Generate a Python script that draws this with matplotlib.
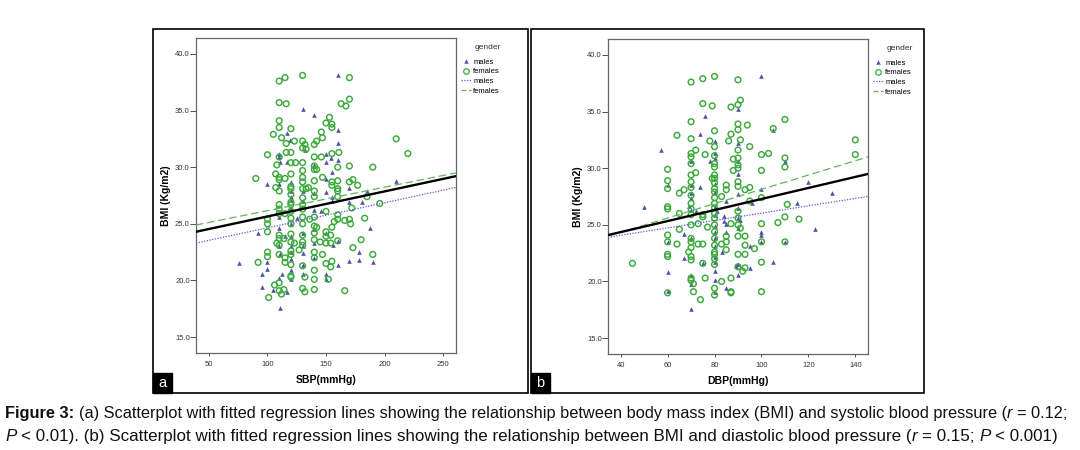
import matplotlib
matplotlib.use("Agg")
import matplotlib.pyplot as plt
from matplotlib.lines import Line2D
from matplotlib.patches import Rectangle
from matplotlib.transforms import IdentityTransform

# ---- data ----
# panel a: SBP vs BMI, (x, y) pairs
SBP_FEMALES = [
    (90, 29.0), (100, 31.1), (100, 25.4), (100, 25.0), (100, 24.3), (100, 22.5), (100, 22.1),
    (92, 21.6), (101, 18.5), (105, 32.9), (107, 29.4), (108, 30.2), (107, 28.2), (110, 37.6),
    (115, 37.9), (110, 35.7), (116, 35.6), (110, 34.1), (110, 33.5), (112, 32.6), (110, 30.9),
    (110, 29.1), (110, 28.9), (110, 27.9), (110, 26.7), (110, 26.3), (110, 25.9), (110, 24.0),
    (110, 23.7), (110, 23.1), (110, 22.3), (108, 23.3), (110, 19.8), (110, 19.1), (112, 18.8),
    (114, 19.2), (106, 19.6), (116, 32.1), (116, 31.3), (115, 29.0), (115, 25.9), (114, 23.7),
    (115, 22.0), (115, 21.6), (120, 33.4), (120, 31.3), (120, 30.4), (120, 29.4), (120, 28.3),
    (120, 28.1), (120, 27.6), (120, 26.9), (120, 26.7), (120, 26.1), (120, 25.5), (120, 25.0),
    (120, 24.1), (120, 23.4), (120, 22.6), (120, 22.3), (120, 21.4), (120, 20.4), (120, 20.3),
    (123, 32.3), (124, 30.4), (123, 23.3), (127, 22.7), (130, 38.1), (130, 32.3), (130, 31.7),
    (130, 30.4), (130, 29.7), (130, 29.1), (130, 28.7), (130, 28.1), (130, 27.3), (130, 26.7),
    (130, 26.3), (130, 25.6), (130, 25.0), (130, 24.0), (130, 23.4), (130, 23.1), (130, 21.3),
    (130, 19.3), (132, 19.0), (132, 32.0), (133, 31.6), (133, 28.1), (135, 28.2), (136, 25.4),
    (132, 20.3), (140, 32.0), (140, 30.9), (140, 30.1), (140, 29.8), (140, 28.8), (140, 27.9),
    (140, 27.4), (140, 25.6), (140, 24.8), (140, 24.2), (140, 23.6), (140, 22.5), (140, 22.0),
    (140, 20.9), (140, 20.1), (140, 19.2), (142, 32.3), (142, 29.8), (142, 24.7), (146, 33.1),
    (147, 32.6), (146, 30.9), (147, 29.1), (147, 22.3), (145, 23.4), (150, 33.9), (153, 34.4),
    (155, 33.8), (155, 33.5), (150, 26.1), (150, 24.3), (150, 23.9), (150, 23.3), (150, 21.5),
    (152, 20.1), (154, 24.0), (154, 23.3), (155, 31.2), (155, 28.7), (155, 28.4), (155, 24.7),
    (155, 21.7), (154, 21.2), (157, 25.2), (160, 30.0), (160, 28.8), (160, 28.1), (160, 27.9),
    (160, 27.4), (160, 25.8), (160, 25.4), (160, 23.5), (161, 31.3), (163, 35.6), (167, 35.4),
    (170, 36.0), (170, 37.9), (166, 25.3), (166, 19.1), (170, 30.1), (170, 28.7), (170, 25.4),
    (171, 25.0), (172, 26.4), (173, 28.9), (173, 22.9), (177, 28.4), (180, 23.6), (183, 25.5),
    (185, 27.4), (190, 30.0), (190, 22.3), (196, 26.8), (210, 32.5), (220, 31.2),
]
SBP_MALES = [
    (76, 21.5), (92, 24.2), (100, 28.5), (95, 20.6), (95, 19.4), (100, 21.6), (100, 21.0),
    (105, 19.2), (110, 31.2), (110, 30.9), (111, 30.5), (110, 28.5), (110, 25.6), (110, 24.6),
    (110, 23.0), (111, 22.3), (110, 20.2), (111, 17.6), (112, 20.6), (117, 33.0), (119, 32.4),
    (117, 30.5), (115, 23.9), (117, 19.0), (120, 28.7), (120, 27.9), (120, 27.4), (120, 27.1),
    (120, 26.4), (120, 25.0), (120, 23.9), (120, 23.0), (120, 22.5), (120, 21.9), (120, 20.9),
    (120, 20.1), (125, 25.5), (130, 35.1), (130, 27.9), (130, 27.0), (130, 24.2), (130, 23.0),
    (130, 22.4), (130, 21.4), (130, 20.6), (132, 31.5), (140, 34.6), (140, 30.2), (140, 27.7),
    (140, 26.2), (140, 24.5), (140, 23.3), (140, 22.0), (146, 26.1), (150, 31.2), (150, 30.5),
    (150, 29.0), (150, 27.8), (150, 24.2), (150, 20.6), (150, 20.1), (154, 30.8), (155, 29.6),
    (155, 27.4), (155, 27.0), (156, 23.1), (160, 38.1), (160, 33.3), (160, 32.1), (160, 30.6),
    (160, 23.5), (160, 21.4), (170, 28.2), (170, 26.9), (170, 21.7), (178, 21.8), (178, 22.5),
    (181, 26.9), (185, 27.9), (188, 24.6), (190, 21.6), (210, 28.8),
]
# panel b: DBP vs BMI
DBP_FEMALES = [
    (45, 21.6), (60, 29.9), (60, 28.9), (60, 28.2), (60, 26.6), (60, 26.4), (60, 24.1),
    (60, 23.5), (60, 22.4), (60, 22.2), (60, 19.0), (64, 32.9), (64, 23.3), (65, 26.0),
    (65, 24.6), (65, 27.8), (67, 28.1), (70, 37.6), (70, 34.1), (70, 32.6), (70, 31.3),
    (70, 31.0), (70, 30.4), (70, 29.4), (70, 28.8), (70, 28.3), (70, 27.6), (70, 26.9),
    (70, 26.4), (70, 25.9), (70, 25.0), (70, 23.8), (70, 23.5), (70, 23.0), (70, 22.2),
    (70, 21.9), (70, 20.3), (70, 20.1), (71, 19.8), (71, 19.1), (69, 22.6), (72, 31.6),
    (72, 29.6), (73, 25.1), (73, 23.3), (75, 37.9), (75, 35.7), (75, 25.9), (75, 25.7),
    (75, 23.3), (75, 21.6), (76, 31.2), (76, 20.3), (77, 24.8), (78, 32.4), (79, 35.5),
    (79, 29.1), (80, 38.1), (80, 33.3), (80, 31.9), (80, 31.1), (80, 30.4), (80, 30.1),
    (80, 29.4), (80, 29.1), (80, 28.7), (80, 28.2), (80, 27.9), (80, 27.4), (80, 26.9),
    (80, 26.5), (80, 26.0), (80, 25.6), (80, 25.0), (80, 24.4), (80, 23.8), (80, 23.2),
    (80, 22.6), (80, 22.4), (80, 22.0), (80, 21.5), (80, 19.4), (80, 18.8), (74, 18.4),
    (83, 27.5), (83, 23.3), (83, 20.0), (85, 28.5), (85, 28.1), (85, 24.0), (85, 23.5),
    (85, 22.8), (86, 32.4), (87, 35.4), (87, 33.0), (87, 25.1), (87, 20.3), (87, 19.1),
    (87, 19.0), (88, 30.8), (88, 29.8), (90, 37.8), (90, 35.6), (90, 33.9), (90, 33.4),
    (90, 31.6), (90, 30.9), (90, 30.3), (90, 30.0), (90, 28.8), (90, 28.4), (90, 26.2),
    (90, 25.6), (90, 25.0), (90, 24.0), (90, 22.4), (90, 21.3), (91, 36.0), (91, 32.5),
    (91, 24.7), (92, 20.9), (93, 21.2), (93, 24.0), (93, 22.4), (93, 23.2), (94, 33.8),
    (95, 31.9), (95, 28.3), (93, 28.1), (95, 27.1), (97, 22.9), (100, 31.2), (100, 29.8),
    (100, 27.4), (100, 25.1), (100, 23.5), (100, 21.7), (100, 19.1), (103, 31.3), (105, 33.5),
    (107, 25.2), (110, 34.3), (110, 30.9), (110, 30.1), (110, 25.7), (110, 23.5), (111, 26.8),
    (116, 25.5), (140, 32.5), (140, 31.2),
]
DBP_MALES = [
    (50, 26.6), (57, 31.6), (60, 28.5), (60, 23.5), (60, 20.8), (60, 19.2), (67, 24.2),
    (67, 22.1), (69, 26.7), (70, 30.6), (70, 28.5), (70, 27.8), (70, 27.4), (70, 26.3),
    (70, 23.8), (70, 20.6), (70, 19.8), (70, 17.6), (72, 26.2), (74, 28.3), (74, 33.0),
    (76, 34.6), (75, 21.6), (78, 30.6), (80, 32.4), (80, 31.3), (80, 30.9), (80, 28.6),
    (80, 27.9), (80, 26.6), (80, 25.9), (80, 24.9), (80, 24.4), (80, 23.8), (80, 23.1),
    (80, 22.2), (80, 21.7), (80, 20.9), (80, 20.1), (80, 19.1), (81, 26.2), (83, 22.6),
    (84, 25.8), (84, 25.3), (85, 27.1), (85, 24.4), (85, 19.4), (85, 25.1), (90, 35.2),
    (90, 32.2), (90, 30.6), (90, 29.5), (90, 27.7), (90, 26.5), (90, 25.6), (90, 24.7),
    (90, 21.5), (90, 20.6), (89, 21.4), (91, 25.4), (95, 23.1), (95, 21.2), (96, 26.9),
    (100, 38.1), (100, 28.2), (100, 24.4), (100, 24.1), (100, 23.5), (105, 33.4), (105, 21.7),
    (110, 30.6), (110, 23.5), (115, 26.9), (120, 28.8), (123, 24.6), (130, 27.8),
]

# fitted lines (intercept, slope)
SBP_FIT_TOTAL = (23.44, 0.0221)
SBP_FIT_FEMALES = (24.09, 0.0207)
SBP_FIT_MALES = (22.44, 0.0221)
DBP_FIT_TOTAL = (22.41, 0.0487)
DBP_FIT_FEMALES = (21.81, 0.0632)
DBP_FIT_MALES = (22.78, 0.0325)

SBP_TICKS = [50, 100, 150, 200, 250]
DBP_TICKS = [40, 60, 80, 100, 120, 140]
BMI_TICKS = [15.0, 20.0, 25.0, 30.0, 35.0, 40.0]

GREEN = "#3aaa3a"
GREEN_LINE = "#5cb85c"
BLUE = "#5050a8"
BLUE_LINE = "#5a5ad0"
FONT = "Liberation Sans"

W, H = 1080, 450


def px_rect(x0, y0, x1, y1):
    """figure-fraction rect from pixel coords (top-left origin)"""
    return [x0 / W, 1 - y1 / H, (x1 - x0) / W, (y1 - y0) / H]


def draw_panel(fig, rect, females, males, fits, xlim, xticks, xlabel):
    ax = fig.add_axes(rect)
    mx = [p[0] for p in males]
    my = [p[1] for p in males]
    fx = [p[0] for p in females]
    fy = [p[1] for p in females]
    ax.scatter(mx, my, marker="^", s=11, color=BLUE, linewidths=0, zorder=2)
    ax.scatter(fx, fy, marker="o", s=17, facecolors="none", edgecolors=GREEN,
               linewidths=1.05, zorder=3)

    total, fem, mal = fits
    xs = [xlim[0], xlim[1]]
    ax.plot(xs, [mal[0] + mal[1] * x for x in xs], color=BLUE_LINE, lw=0.9,
            ls=(0, (1, 1.2)), zorder=4)
    ax.plot(xs, [fem[0] + fem[1] * x for x in xs], color=GREEN_LINE, lw=0.9,
            ls=(0, (6, 3)), zorder=4)
    ax.plot(xs, [total[0] + total[1] * x for x in xs], color="black", lw=1.7, zorder=5)

    ax.set_xlim(*xlim)
    ax.set_ylim(13.6, 41.4)
    ax.set_xticks(xticks)
    ax.set_yticks(BMI_TICKS)
    ax.set_yticklabels([f"{v:.1f}" for v in BMI_TICKS])
    ax.tick_params(axis="both", labelsize=5.5, colors="#333333", width=0.6)
    ax.tick_params(axis="y", length=4, pad=0.5)
    ax.tick_params(axis="x", length=2.5, pad=3)
    for lab in ax.get_xticklabels() + ax.get_yticklabels():
        lab.set_family(FONT)
    for sp in ax.spines.values():
        sp.set_color("#666666")
        sp.set_linewidth(0.9)
    ax.set_xlabel(xlabel, fontsize=7.5, fontweight="bold", family=FONT, labelpad=5)
    ax.set_ylabel("BMI (Kg/m2)", fontsize=7.5, fontweight="bold", family=FONT, labelpad=3)

    # legend: title as its own text, entries below with a gap
    ax.text(1.07, 0.97, "gender", transform=ax.transAxes, fontsize=6, family=FONT,
            color="#333333", va="center", ha="left")
    handles = [
        Line2D([], [], marker="^", ls="none", color=BLUE, markersize=3.2, markeredgewidth=0),
        Line2D([], [], marker="o", ls="none", markerfacecolor="none",
               markeredgecolor=GREEN, markersize=4, markeredgewidth=0.9),
        Line2D([], [], color=BLUE_LINE, lw=0.9, ls=(0, (1, 1.2))),
        Line2D([], [], color=GREEN_LINE, lw=0.9, ls=(0, (4, 2))),
    ]
    ax.legend(handles, ["males", "females", "males", "females"],
              loc="upper left", bbox_to_anchor=(1.02, 0.935), frameon=False,
              prop={"family": FONT, "size": 5.5}, handlelength=1.3,
              handletextpad=0.3, labelspacing=0.3, borderaxespad=0, borderpad=0)
    return ax


def draw_runs(fig, x, y, runs, size):
    """place text runs of mixed style one after another (pixel coords)"""
    renderer = fig.canvas.get_renderer()
    tr = IdentityTransform()
    probe1 = fig.text(0, 0, "x x", fontsize=size, family=FONT, transform=tr)
    probe2 = fig.text(0, 0, "xx", fontsize=size, family=FONT, transform=tr)
    space = (probe1.get_window_extent(renderer).width
             - probe2.get_window_extent(renderer).width)
    probe1.remove()
    probe2.remove()
    placed = []
    for text, weight, style in runs:
        lead = len(text) - len(text.lstrip(" "))
        x += lead * space
        body = text.strip(" ")
        if body:
            t = fig.text(x, y, body, fontsize=size, fontweight=weight, fontstyle=style,
                         family=FONT, transform=tr, va="baseline", color="#111111")
            placed.append(t)
            x = t.get_window_extent(renderer).x1
            x += (len(text) - len(text.rstrip(" "))) * space
    return x, placed


def draw_fitted_line(fig, x0, y, runs, target_right, size=10):
    right, placed = draw_runs(fig, x0, y, runs, size)
    for t in placed:
        t.remove()
    size *= (target_right - x0) / (right - x0)
    draw_runs(fig, x0, y, runs, size)


def main():
    fig = plt.figure(figsize=(W / 100, H / 100), dpi=100)

    # outer panel boxes and corner labels
    for (x0, x1), label in [((153, 528), "a"), ((531, 924), "b")]:
        fig.patches.append(Rectangle((x0 / W, 1 - 393 / H), (x1 - x0) / W, 364 / H,
                                     transform=fig.transFigure, fill=False,
                                     edgecolor="black", lw=1.2))
        fig.patches.append(Rectangle((x0 / W, 1 - 393 / H), 19 / W, 20 / H,
                                     transform=fig.transFigure, color="black"))
        fig.text((x0 + 9.5) / W, 1 - 383 / H, label, color="white", fontsize=10.5,
                 family=FONT, ha="center", va="center")

    draw_panel(fig, px_rect(196, 38, 456, 353), SBP_FEMALES, SBP_MALES,
               (SBP_FIT_TOTAL, SBP_FIT_FEMALES, SBP_FIT_MALES),
               (38.9, 261.1), SBP_TICKS, "SBP(mmHg)")
    draw_panel(fig, px_rect(608, 39, 868, 354), DBP_FEMALES, DBP_MALES,
               (DBP_FIT_TOTAL, DBP_FIT_FEMALES, DBP_FIT_MALES),
               (34.6, 145.4), DBP_TICKS, "DBP(mmHg)")

    # caption
    line1 = [
        ("Figure 3: ", "bold", "normal"),
        ("(a) Scatterplot with fitted regression lines showing the relationship between "
         "body mass index (BMI) and systolic blood pressure (", "normal", "normal"),
        ("r", "normal", "italic"),
        (" = 0.12;", "normal", "normal"),
    ]
    line2 = [
        ("P", "normal", "italic"),
        (" < 0.01). (b) Scatterplot with fitted regression lines showing the relationship "
         "between BMI and diastolic blood pressure (", "normal", "normal"),
        ("r", "normal", "italic"),
        (" = 0.15; ", "normal", "normal"),
        ("P", "normal", "italic"),
        (" < 0.001)", "normal", "normal"),
    ]
    draw_fitted_line(fig, 5, H - 418, line1, 1074)
    draw_fitted_line(fig, 5, H - 441, line2, 1054)

    fig.savefig("out.png", dpi=100)


if __name__ == "__main__":
    main()
